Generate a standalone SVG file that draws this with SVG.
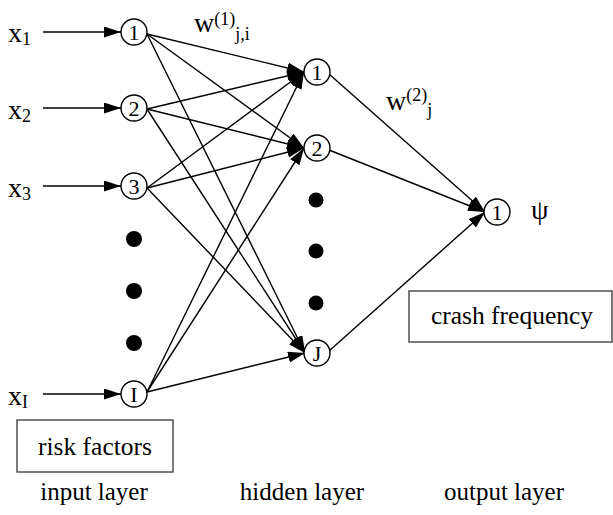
<svg xmlns="http://www.w3.org/2000/svg" width="613" height="515" viewBox="0 0 613 515">
<style>
text { font-family: "Liberation Serif", "Times New Roman", serif; fill: #000; }
.lbl { font-size: 28px; }
.sub { font-size: 18px; }
.num { font-size: 22px; text-anchor: middle; }
.cap { font-size: 25.5px; text-anchor: middle; }
.lay { font-size: 25px; text-anchor: middle; }
.node circle { fill: #fff; stroke: #000; stroke-width: 1.4; }
.dot { fill: #000; }
.edge { stroke: #000; stroke-width: 1.4; fill: none; marker-end: url(#ah); }
.box { fill: #fff; stroke: #444; stroke-width: 1.4; }
</style>
<defs>
<marker id="ah" markerUnits="userSpaceOnUse" markerWidth="18" markerHeight="12" refX="17" refY="5.5" orient="auto">
<path d="M0,0 L17,5.5 L0,11 z" fill="#000"/>
</marker>
</defs>
<g id="connectors">
<line class="edge" x1="43" y1="32" x2="121" y2="32"/>
<line class="edge" x1="43" y1="108" x2="121" y2="108"/>
<line class="edge" x1="43" y1="186" x2="121" y2="186"/>
<line class="edge" x1="43" y1="394" x2="121" y2="394"/>
<line class="edge" x1="147" y1="34" x2="304" y2="72"/>
<line class="edge" x1="147" y1="34" x2="304" y2="148"/>
<line class="edge" x1="147" y1="34" x2="305" y2="353"/>
<line class="edge" x1="147" y1="109" x2="304" y2="72"/>
<line class="edge" x1="147" y1="109" x2="304" y2="148"/>
<line class="edge" x1="147" y1="109" x2="305" y2="353"/>
<line class="edge" x1="147" y1="188" x2="304" y2="72"/>
<line class="edge" x1="147" y1="188" x2="304" y2="148"/>
<line class="edge" x1="147" y1="188" x2="305" y2="353"/>
<line class="edge" x1="147" y1="392" x2="304" y2="72"/>
<line class="edge" x1="147" y1="392" x2="304" y2="148"/>
<line class="edge" x1="147" y1="392" x2="305" y2="353"/>
<line class="edge" x1="329" y1="74" x2="485" y2="212"/>
<line class="edge" x1="329" y1="150" x2="485" y2="212"/>
<line class="edge" x1="329" y1="351" x2="485" y2="212"/>
</g>
<g id="in1" class="node"><circle cx="134" cy="32" r="13"/><text class="num" x="134" y="39.5">1</text></g>
<g id="in2" class="node"><circle cx="134" cy="108" r="13"/><text class="num" x="134" y="115.5">2</text></g>
<g id="in3" class="node"><circle cx="134" cy="186" r="13"/><text class="num" x="134" y="193.5">3</text></g>
<g id="inI" class="node"><circle cx="134" cy="394" r="13"/><text class="num" x="134" y="401.5">I</text></g>
<g id="h1" class="node"><circle cx="317" cy="72" r="13"/><text class="num" x="317" y="79.5">1</text></g>
<g id="h2" class="node"><circle cx="317" cy="148" r="13"/><text class="num" x="317" y="155.5">2</text></g>
<g id="hJ" class="node"><circle cx="317" cy="353" r="13"/><text class="num" x="317" y="360.5">J</text></g>
<g id="out1" class="node"><circle cx="497" cy="212" r="13"/><text class="num" x="497" y="219.5">1</text></g>
<g id="dots">
<circle class="dot" cx="134" cy="239" r="8"/>
<circle class="dot" cx="134" cy="291" r="8"/>
<circle class="dot" cx="134" cy="343" r="8"/>
<circle class="dot" cx="316" cy="200" r="7.5"/>
<circle class="dot" cx="316" cy="251" r="7.5"/>
<circle class="dot" cx="316" cy="303" r="7.5"/>
</g>
<g id="labels">
<text class="lbl" x="8" y="42">x<tspan class="sub" dy="3">1</tspan></text>
<text class="lbl" x="8" y="119">x<tspan class="sub" dy="3">2</tspan></text>
<text class="lbl" x="8" y="197">x<tspan class="sub" dy="3">3</tspan></text>
<text class="lbl" x="8" y="405">x<tspan class="sub" dy="3">I</tspan></text>
<text class="lbl" x="194" y="32">w<tspan class="sub" dy="-7">(1)</tspan><tspan class="sub" dy="15">j,i</tspan></text>
<text class="lbl" x="386" y="110">w<tspan class="sub" dy="-9">(2)</tspan><tspan class="sub" dy="15">j</tspan></text>
<text class="lbl" x="531" y="219">ψ</text>
</g>
<g id="risk">
<rect class="box" x="17" y="420" width="156" height="52"/>
<text class="cap" x="95" y="455">risk factors</text>
</g>
<g id="crash">
<rect class="box" x="409" y="291" width="203" height="51"/>
<text class="cap" x="512" y="324">crash frequency</text>
</g>
<g id="layers">
<text class="lay" x="94" y="500">input layer</text>
<text class="lay" x="302" y="500">hidden layer</text>
<text class="lay" x="504" y="500">output layer</text>
</g>
</svg>
